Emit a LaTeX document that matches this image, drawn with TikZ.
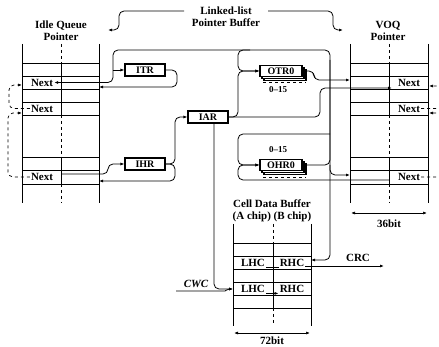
\documentclass[tikz,border=0pt]{standalone}
\usepackage{fontspec}
\setmainfont{Liberation Serif}
\usetikzlibrary{arrows.meta,shadows}

\tikzset{
  reg/.style={draw, fill=white, line width=1.1pt, minimum width=40pt,
    minimum height=12pt, inner sep=0pt, font=\bfseries\fontsize{10}{10}\selectfont},
  regq/.style={reg, minimum width=42pt, minimum height=11pt,
    double copy shadow={shadow xshift=2pt, shadow yshift=-2pt}},
  lbl/.style={inner sep=1pt, font=\bfseries\fontsize{11}{12}\selectfont},
  ttl/.style={lbl, align=center},
  wire/.style={line width=0.8pt, rounded corners=5pt},
  link/.style={line width=0.7pt, dashed, rounded corners=5pt},
  cell/.style={line width=0.9pt},
  mid/.style={line width=0.8pt, dash pattern=on 3pt off 3pt},
}

\begin{document}
\begin{tikzpicture}[x=1pt, y=-1pt, >={Latex[length=4pt,width=3pt]}]
    \useasboundingbox (0,0) rectangle (439,347);
    \clip (0,0) rectangle (439,347);

    % Titles
    \node[ttl] (iqtitle) at (61,31) {Idle Queue\\Pointer};
    \node[ttl] (lltitle) at (226,17) {Linked-list\\Pointer Buffer};
    \node[ttl] (vqtitle) at (388,31) {VOQ\\Pointer};
    \node[ttl] (cbtitle) at (272,211) {Cell Data Buffer\\(A chip) (B chip)};

    % Idle queue pointer table
    \draw[cell] (22,44) -- (22,203) (99,44) -- (99,203);
    \foreach \r in {63,76,89,102,115,157,170,184} \draw[cell] (22,\r) -- (99,\r);
    \draw[cell] (61,63) -- (61,115) (61,157) -- (61,184);
    \draw[mid] (61,44) -- (61,63) (61,115) -- (61,157) (61,184) -- (61,203);

    % VOQ pointer table
    \draw[cell] (350,44) -- (350,203) (428,44) -- (428,203);
    \foreach \r in {63,76,89,102,115,157,170,184} \draw[cell] (350,\r) -- (428,\r);
    \draw[cell] (389,63) -- (389,115) (389,157) -- (389,184);
    \draw[mid] (389,44) -- (389,63) (389,115) -- (389,157) (389,184) -- (389,203);

    % Cell data buffer
    \draw[cell] (233,224) -- (233,326) (311,224) -- (311,326);
    \foreach \r in {243,256,269,282,295,308} \draw[cell] (233,\r) -- (311,\r);
    \draw[cell] (273,243) -- (273,308);
    \draw[mid] (273,224) -- (273,243) (273,308) -- (273,326);

    % Cell contents
    \node[lbl] (iqnext1) at (42,82.5) {Next};
    \node[lbl] (iqnext2) at (42,108.5) {Next};
    \node[lbl] (iqnext3) at (42,177) {Next};
    \node[lbl] (vqnext1) at (409,82.5) {Next};
    \node[lbl] (vqnext2) at (409,108.5) {Next};
    \node[lbl] (vqnext3) at (409,177) {Next};
    \node[lbl] (lhc1) at (253,262.5) {LHC};
    \node[lbl] (rhc1) at (292,262.5) {RHC};
    \node[lbl] (lhc2) at (253,288.5) {LHC};
    \node[lbl] (rhc2) at (292,288.5) {RHC};

    % Registers
    \node[reg] (itr) at (145,70) {ITR};
    \node[reg] (ihr) at (145,164) {IHR};
    \node[reg] (iar) at (208,117) {IAR};
    \node[regq] (otr) at (281,71) {OTR0};
    \node[regq] (ohr) at (281,165) {OHR0};
    \draw[dashed, line width=0.6pt] (263,82) -- (306,82);
    \draw[dashed, line width=0.6pt] (263,177) -- (306,177);
    \node[lbl, font=\bfseries\fontsize{9}{9}\selectfont] (otrn) at (278,90) {0--15};
    \node[lbl, font=\bfseries\fontsize{9}{9}\selectfont] (ohrn) at (278,150) {0--15};

    % Other labels
    \node[lbl, font=\bfseries\itshape\fontsize{11}{12}\selectfont] (cwc) at (196,284) {CWC};
    \node[lbl] (crc) at (358,258) {CRC};
    \node[lbl] (w36) at (389,224) {36bit};
    \node[lbl] (w72) at (272,341) {72bit};

    % Free ends of the connectors
    \coordinate (busL) at (113,50);
    \coordinate (busO) at (238,50);
    \coordinate (busR) at (330,50);
    \coordinate (iqin1) at (99,87);
    \coordinate (iqin3) at (99,181);
    \coordinate (iqout3) at (62,174);
    \coordinate (iqin2) at (22,85);
    \coordinate (iqin4) at (22,113);
    \coordinate (vqin1) at (350,80);
    \coordinate (vqin3) at (350,175);
    \coordinate (vqnx1) at (392,88);
    \coordinate (vqout3) at (389,180);
    \coordinate (vqin2) at (429,86);
    \coordinate (vqin4) at (429,113);
    \coordinate (cbin1) at (311,260);
    \coordinate (cbin2) at (233,289);
    \coordinate (cbout1) at (305,266);
    \coordinate (crcend) at (384,266);
    \coordinate (cwcin) at (176,291);

    % OHR0 output: back to the idle tail, to the cell buffer and the VOQ
    \draw[wire,->] ([xshift=4pt]ohr.east) -- (330,165) -- (busR) -- (busL) -- (113,82.5) -- (iqnext1.east);
    \draw[wire,->] (113,70) -- (itr.west);
    \draw[wire,->] (250,50) -- (busO) -- (238,71) -- (otr.west);
    \draw[wire,->] (330,60) -- (330,260) -- (cbin1);
    \draw[wire,->] (330,134) -- (238,134) -- (238,165) -- (ohr.west);
    \draw[wire,->] (330,165) -- (330,175) -- (vqin3);
    \draw[wire,->] (vqout3) -- (238,180) -- (238,165) -- (ohr.west);

    % IAR output
    \draw[wire,->] (iar.east) -- (238,117) -- (238,71) -- (otr.west);
    \draw[wire,->] (iar.east) -- (320,117) -- (320,88) -- (vqnx1);
    \draw[wire,->] ([xshift=6pt]iar.south) -- (214,289) -- (cbin2);
    \draw[wire,->] (cwcin) -- (220,291) to[out=0,in=180] (cbin2);
    \draw[wire,->] ([xshift=4pt]otr.east) -- (314,71) -- (314,80) -- (vqin1);

    % Idle queue registers
    \draw[wire,->] (itr.east) -- (177,70) -- (177,87) -- (iqin1);
    \draw[wire,->] (ihr.east) -- (175,164) -- (175,117) -- (iar.west);
    \draw[wire,->] (ihr.east) -- (175,164) -- (175,181) -- (iqin3);
    \draw[wire,->] (iqout3) -- (108,174) -- (108,164) -- (ihr.west);

    % Cell buffer halves and read out
    \draw[->, line width=0.7pt] (lhc2.south east) -- (rhc2.south west);
    \draw[line width=0.7pt] (lhc1.south east) -- (rhc1.south west);
    \draw[wire,->] (cbout1) -- (crcend);

    % Next pointer links
    \draw[link,->] (iqnext2.west) -- (9,108.5) -- (9,85) -- (iqin2);
    \draw[link,->] (iqnext3.west) -- (8,177) -- (8,113) -- (iqin4);
    \draw[link,->] (vqnext2.east) -- (450,108.5) -- (450,86) -- (vqin2);
    \draw[link,->] (vqnext3.east) -- (450,177) -- (450,113) -- (vqin4);

    % Title arrows
    \coordinate (llA) at (184,11);
    \coordinate (llB) at (108,30);
    \coordinate (llC) at (268,11);
    \coordinate (llD) at (343,30);
    \draw[wire,->] (llA) -- (119,11) -- (119,30) -- (llB);
    \draw[wire,->] (llC) -- (333,11) -- (333,30) -- (llD);

    % Word widths
    \coordinate (vqw1) at (351,213);
    \coordinate (vqw2) at (427,213);
    \coordinate (cbw1) at (234,333);
    \coordinate (cbw2) at (310,333);
    \draw[<->, line width=0.7pt] (vqw1) -- (vqw2);
    \draw[<->, line width=0.7pt] (cbw1) -- (cbw2);
\end{tikzpicture}
\end{document}
